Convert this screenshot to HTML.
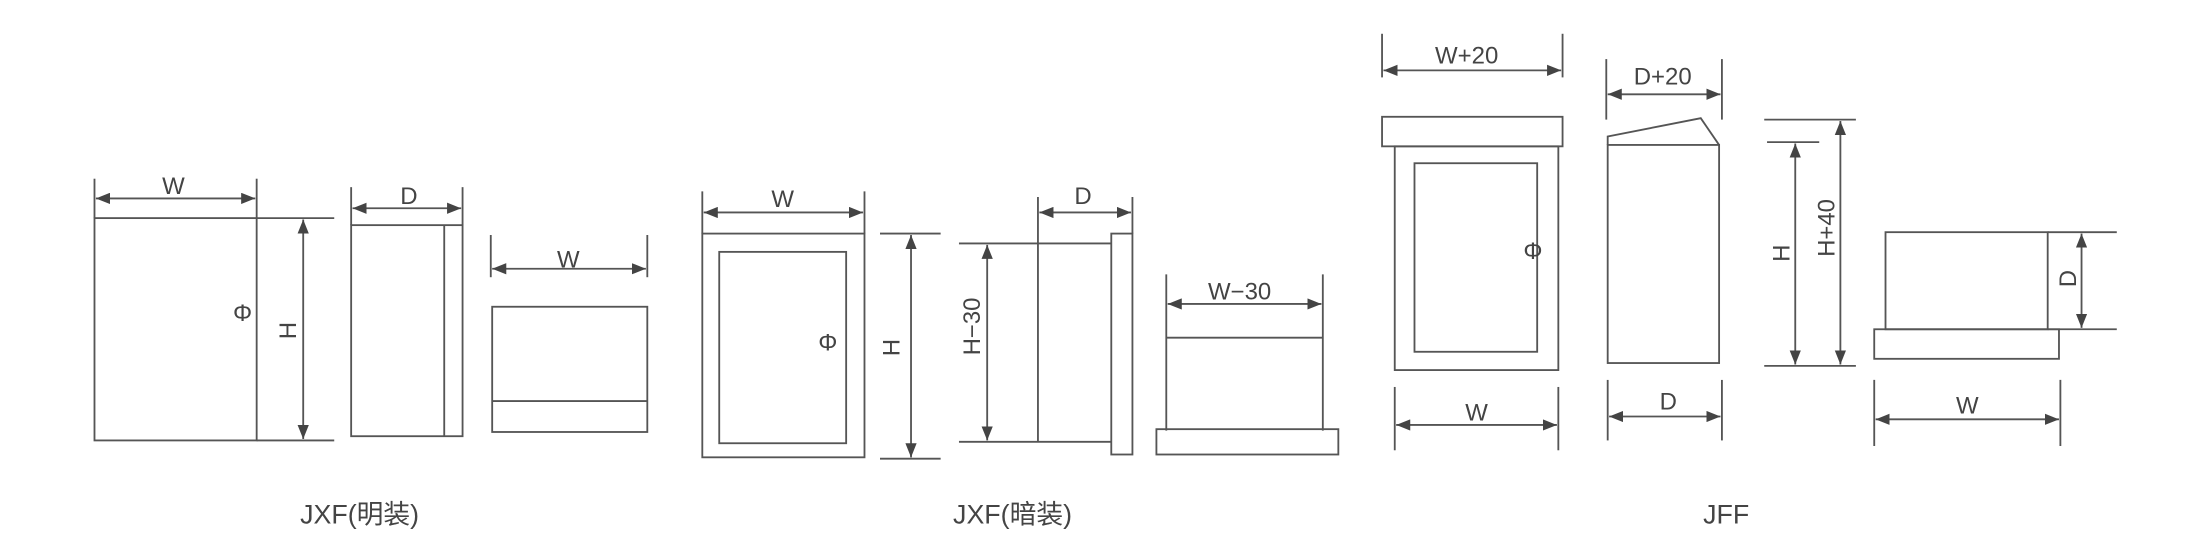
<!DOCTYPE html>
<html><head><meta charset="utf-8"><style>
html,body{margin:0;padding:0;background:#fff;}
svg{display:block;}
text{font-family:"Liberation Sans","Noto Sans CJK SC",sans-serif;fill:#444;}
</style></head><body>
<svg width="2200" height="553" viewBox="0 0 1560 393" preserveAspectRatio="none" xmlns="http://www.w3.org/2000/svg">
<defs>
<marker id="a" viewBox="0 0 10 8" refX="10" refY="4" markerWidth="10" markerHeight="8" markerUnits="userSpaceOnUse" orient="auto-start-reverse"><path d="M0,0 L10,4 L0,8 z" fill="#444"/></marker>
</defs>
<g stroke="#555" stroke-width="1.3" fill="none">
<rect x="67" y="155" width="115" height="158"/>
<line x1="182" y1="155" x2="237" y2="155"/><line x1="182" y1="313" x2="237" y2="313"/>
<line x1="215" y1="156" x2="215" y2="312" marker-start="url(#a)" marker-end="url(#a)"/>
<line x1="67" y1="127" x2="67" y2="155"/><line x1="182" y1="127" x2="182" y2="155"/>
<line x1="68" y1="141" x2="181" y2="141" marker-start="url(#a)" marker-end="url(#a)"/>
<rect x="249" y="160" width="79" height="150"/><line x1="315" y1="160" x2="315" y2="310"/>
<line x1="249" y1="133" x2="249" y2="160"/><line x1="328" y1="133" x2="328" y2="160"/>
<line x1="250" y1="148" x2="327" y2="148" marker-start="url(#a)" marker-end="url(#a)"/>
<rect x="349" y="218" width="110" height="89"/><line x1="349" y1="285" x2="459" y2="285"/>
<line x1="348" y1="167" x2="348" y2="197"/><line x1="459" y1="167" x2="459" y2="197"/>
<line x1="349" y1="191" x2="458" y2="191" marker-start="url(#a)" marker-end="url(#a)"/>
<rect x="498" y="166" width="115" height="159"/><rect x="510" y="179" width="90" height="136"/>
<line x1="498" y1="136" x2="498" y2="166"/><line x1="613" y1="136" x2="613" y2="166"/>
<line x1="499" y1="151" x2="612" y2="151" marker-start="url(#a)" marker-end="url(#a)"/>
<line x1="624" y1="166" x2="667" y2="166"/><line x1="624" y1="326" x2="667" y2="326"/>
<line x1="646" y1="167" x2="646" y2="325" marker-start="url(#a)" marker-end="url(#a)"/>
<line x1="680" y1="173" x2="788" y2="173"/><line x1="680" y1="314" x2="788" y2="314"/>
<line x1="700" y1="174" x2="700" y2="313" marker-start="url(#a)" marker-end="url(#a)"/>
<line x1="736" y1="140" x2="736" y2="314"/>
<rect x="788" y="166" width="15" height="157"/>
<line x1="803" y1="140" x2="803" y2="166"/>
<line x1="737" y1="151" x2="802" y2="151" marker-start="url(#a)" marker-end="url(#a)"/>
<line x1="827" y1="195" x2="827" y2="306"/><line x1="938" y1="195" x2="938" y2="306"/>
<line x1="827" y1="240" x2="938" y2="240"/>
<rect x="820" y="305" width="129" height="18"/>
<line x1="828" y1="216" x2="937" y2="216" marker-start="url(#a)" marker-end="url(#a)"/>
<rect x="980" y="83" width="128" height="21"/>
<rect x="989" y="104" width="116" height="159"/><rect x="1003" y="116" width="87" height="134"/>
<line x1="980" y1="24" x2="980" y2="55"/><line x1="1108" y1="24" x2="1108" y2="55"/>
<line x1="981" y1="50" x2="1107" y2="50" marker-start="url(#a)" marker-end="url(#a)"/>
<line x1="989" y1="275" x2="989" y2="320"/><line x1="1105" y1="275" x2="1105" y2="320"/>
<line x1="990" y1="302" x2="1104" y2="302" marker-start="url(#a)" marker-end="url(#a)"/>
<rect x="1140" y="103" width="79" height="155"/>
<polyline points="1140,103 1140,97 1206,84 1219,103"/>
<line x1="1139" y1="42" x2="1139" y2="85"/><line x1="1221" y1="42" x2="1221" y2="85"/>
<line x1="1140" y1="67" x2="1220" y2="67" marker-start="url(#a)" marker-end="url(#a)"/>
<line x1="1140" y1="270" x2="1140" y2="313"/><line x1="1221" y1="270" x2="1221" y2="313"/>
<line x1="1141" y1="296" x2="1220" y2="296" marker-start="url(#a)" marker-end="url(#a)"/>
<line x1="1251" y1="85" x2="1316" y2="85"/><line x1="1253" y1="101" x2="1290" y2="101"/><line x1="1251" y1="260" x2="1316" y2="260"/>
<line x1="1273" y1="102" x2="1273" y2="259" marker-start="url(#a)" marker-end="url(#a)"/>
<line x1="1305" y1="86" x2="1305" y2="259" marker-start="url(#a)" marker-end="url(#a)"/>
<rect x="1337" y="165" width="115" height="69"/>
<line x1="1452" y1="165" x2="1501" y2="165"/><line x1="1452" y1="234" x2="1501" y2="234"/>
<line x1="1476" y1="166" x2="1476" y2="233" marker-start="url(#a)" marker-end="url(#a)"/>
<rect x="1329" y="234" width="131" height="21"/>
<line x1="1329" y1="270" x2="1329" y2="317"/><line x1="1461" y1="270" x2="1461" y2="317"/>
<line x1="1330" y1="298" x2="1460" y2="298" marker-start="url(#a)" marker-end="url(#a)"/>
</g>
<g font-size="17" text-anchor="middle">
<text x="123" y="138">W</text>
<text x="290" y="145">D</text>
<text x="403" y="190">W</text>
<text x="172" y="228">Φ</text>
<text transform="translate(210,235) rotate(-90)">H</text>
<text x="555" y="147">W</text>
<text x="587" y="249">Φ</text>
<text transform="translate(638,247) rotate(-90)">H</text>
<text transform="translate(695,232) rotate(-90)">H−30</text>
<text x="768" y="145">D</text>
<text x="879" y="213">W−30</text>
<text x="1040" y="45">W+20</text>
<text x="1087" y="184">Φ</text>
<text x="1047" y="299">W</text>
<text x="1179" y="60">D+20</text>
<text x="1183" y="291">D</text>
<text transform="translate(1269,180) rotate(-90)">H</text>
<text transform="translate(1301,162) rotate(-90)">H+40</text>
<text transform="translate(1472,198) rotate(-90)">D</text>
<text x="1395" y="294">W</text>
</g>
<g font-size="19" text-anchor="middle">
<text x="255" y="372">JXF(明装)</text>
<text x="718" y="372">JXF(暗装)</text>
<text x="1224" y="372">JFF</text>
</g>
</svg>
</body></html>
